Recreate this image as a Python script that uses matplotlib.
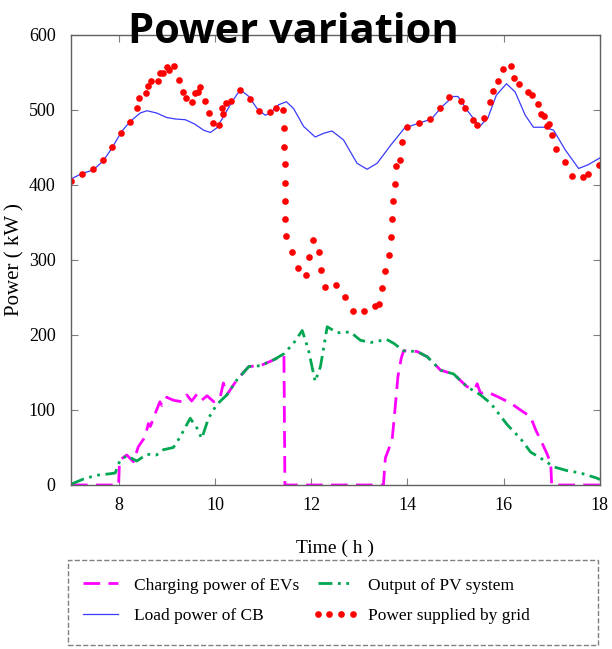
import matplotlib
matplotlib.use("Agg")
import matplotlib.pyplot as plt
from matplotlib.patches import Rectangle

# Hourly power profiles of the charging station (kW)
ev_t = [7.0, 7.99, 8.01, 8.16, 8.3, 8.4, 8.54, 8.61, 8.65, 8.78,
        8.85, 8.89, 8.99, 9.13, 9.31, 9.41, 9.51, 9.62, 9.72, 9.83,
        9.97, 10.03, 10.1, 10.17, 10.24,
        10.45, 10.7, 10.94, 11.22, 11.43, 11.45, 13.5, 13.54, 13.68, 13.71,
        13.77, 13.8, 13.87, 13.92, 14.2, 14.41, 14.69, 14.96, 15.24, 15.4,
        15.45, 15.52, 15.6, 15.73, 15.9, 16.15, 16.35, 16.56, 16.67, 16.77,
        16.9, 16.98, 17.0, 18.0]
ev_p = [0, 0, 33, 40, 31, 51, 64, 82, 78, 100,
        111, 106, 117, 113, 111, 120, 112, 121, 113, 119,
        111, 113, 116, 136, 120,
        140, 158, 159, 167, 173, 0, 0, 36, 60, 80,
        122, 144, 169, 179, 178, 171, 153, 148, 131, 128,
        135, 122, 124, 122, 117, 109, 100, 91, 73, 60,
        42, 29, 0, 0]

pv_t = [7.0, 7.26, 7.53, 7.81, 7.92, 8.02, 8.16, 8.37, 8.58, 8.78,
        8.92, 9.13, 9.27, 9.48, 9.62, 9.72, 9.86, 10.03, 10.24, 10.45,
        10.7, 10.94, 11.22, 11.43, 11.63, 11.81, 11.94, 12.08, 12.19, 12.33,
        12.54, 12.81, 13.02, 13.23, 13.57, 13.71, 13.92, 14.2, 14.41, 14.69,
        14.96, 15.24, 15.52, 15.73, 16.08, 16.35, 16.56, 16.84, 17.05, 17.33,
        17.6, 17.95, 18.0]
pv_p = [1, 8, 13, 15, 16, 33, 39, 32, 41, 40,
        47, 50, 64, 89, 76, 62, 89, 107, 120, 140,
        158, 159, 167, 175, 189, 206, 180, 138, 158, 211,
        203, 204, 193, 190, 194, 189, 179, 178, 171, 153,
        148, 131, 120, 109, 80, 62, 44, 33, 24, 19,
        16, 9, 7]

load_t = [7.0, 7.22, 7.46, 7.67, 7.85, 8.05, 8.22, 8.44, 8.58, 8.78,
          8.99, 9.17, 9.38, 9.58, 9.76, 9.9, 10.03, 10.17, 10.35, 10.52,
          10.7, 10.87, 11.04, 11.15, 11.32, 11.48, 11.63, 11.84, 12.08, 12.26,
          12.43, 12.67, 12.95, 13.16, 13.37, 13.65, 13.94, 14.22, 14.5, 14.71,
          14.95, 15.05, 15.26, 15.5, 15.67, 15.85, 16.06, 16.24, 16.45, 16.62,
          16.86, 17.04, 17.28, 17.56, 17.76, 18.0]
load_p = [408, 415, 420, 432, 449, 471, 484, 496, 499, 496,
          490, 488, 487, 481, 473, 470, 476, 491, 511, 527,
          518, 502, 493, 496, 507, 511, 502, 478, 464, 469,
          472, 460, 429, 421, 429, 453, 476, 482, 488, 504,
          518, 518, 498, 478, 489, 520, 535, 524, 493, 477,
          477, 473, 447, 422, 427, 436]

grid_t = [7.01, 7.22, 7.46, 7.67, 7.86, 8.03, 8.22, 8.37, 8.42, 8.56,
          8.61, 8.66, 8.81, 8.85, 8.92, 8.99, 9.03, 9.14, 9.24, 9.32,
          9.40, 9.51, 9.58, 9.64, 9.69, 9.78, 9.87, 9.96, 10.07, 10.14,
          10.16, 10.22, 10.32, 10.52, 10.73, 10.92, 11.15, 11.27, 11.42, 11.44,
          11.44, 11.45, 11.45, 11.46, 11.46, 11.48, 11.60, 11.72, 11.88, 11.96,
          12.04, 12.15, 12.21, 12.29, 12.51, 12.69, 12.86, 13.10, 13.33, 13.40,
          13.47, 13.54, 13.61, 13.65, 13.68, 13.70, 13.75, 13.77, 13.85, 13.88,
          13.99, 14.23, 14.46, 14.68, 14.87, 15.11, 15.19, 15.36, 15.44, 15.60,
          15.72, 15.77, 15.88, 15.99, 16.15, 16.22, 16.32, 16.51, 16.58, 16.71,
          16.77, 16.83, 16.90, 16.95, 17.01, 17.09, 17.27, 17.43, 17.65, 17.75,
          17.98]
grid_p = [405, 415, 421, 433, 451, 469, 484, 503, 516, 522,
          532, 539, 539, 549, 549, 557, 553, 558, 540, 524,
          516, 511, 523, 524, 530, 512, 496, 483, 480, 503,
          494, 509, 512, 526, 514, 498, 497, 503, 500, 476,
          451, 428, 403, 379, 355, 332, 311, 289, 280, 304,
          326, 310, 287, 264, 267, 251, 232, 232, 238, 241,
          263, 285, 307, 330, 354, 378, 401, 425, 433, 457,
          477, 483, 488, 502, 517, 512, 502, 487, 480, 489,
          511, 525, 539, 555, 559, 543, 534, 524, 520, 508,
          495, 492, 479, 481, 467, 448, 430, 412, 410, 415,
          426]

x_ticks = [8, 10, 12, 14, 16, 18]
y_ticks = [0, 100, 200, 300, 400, 500, 600]

serif = "Liberation Serif"

fig = plt.figure(figsize=(6.12, 6.49), dpi=100)
ax = fig.add_axes([0.116, 0.2527, 0.864, 0.6934])

ev_line, = ax.plot(ev_t, ev_p, color="#ff00ff", lw=2.0, dashes=(6, 3),
                   label="Charging power of EVs")
pv_line, = ax.plot(pv_t, pv_p, color="#00a651", lw=2.0,
                   linestyle=(0, (5, 2, 1, 2, 1, 2)),
                   label="Output of PV system")
load_line, = ax.plot(load_t, load_p, color="#3a3aff", lw=0.9,
                     label="Load power of CB")
grid_line, = ax.plot(grid_t, grid_p, linestyle="none", marker="o",
                     markersize=4.8, color="#ff0000", markeredgewidth=0,
                     label="Power supplied by grid")

ax.set_xlim(7, 18)
ax.set_ylim(0, 600)
ax.set_xticks(x_ticks)
ax.set_yticks(y_ticks)
ax.tick_params(direction="in", length=5, width=0.8, color="#808080",
               top=True, right=True, labelsize=13)
ax.tick_params(axis="y", pad=11)
ax.tick_params(axis="x", pad=9)
for lab in ax.get_xticklabels() + ax.get_yticklabels():
    lab.set_family(serif)
for sp in ax.spines.values():
    sp.set_color("#606060")
    sp.set_linewidth(1.0)

ax.set_xlabel("Time ( h )", family=serif, fontsize=14, labelpad=18)
ax.set_ylabel("Power ( kW )", family=serif, fontsize=15, labelpad=3)

fig.text(0.48, 1 - 43 / 649, "Power variation", ha="center", va="baseline",
         family="Open Sans", fontweight="bold", fontsize=30)

# legend box with a dashed outline
fig.patches.append(Rectangle((68 / 612, 1 - 645 / 649), 530 / 612, 85 / 649,
                             transform=fig.transFigure, fill=False,
                             edgecolor="#808080", linestyle="--", lw=1.0))
leg = fig.legend(handles=[ev_line, load_line, pv_line, grid_line],
                 loc="center left", ncol=2,
                 bbox_to_anchor=(78 / 612, 1 - 600.5 / 649),
                 prop={"family": serif, "size": 12.5}, numpoints=4,
                 handlelength=2.6, handletextpad=0.6, columnspacing=0.8,
                 labelspacing=0.8, frameon=False, borderaxespad=0,
                 borderpad=0)

fig.savefig("out.png", dpi=100)
